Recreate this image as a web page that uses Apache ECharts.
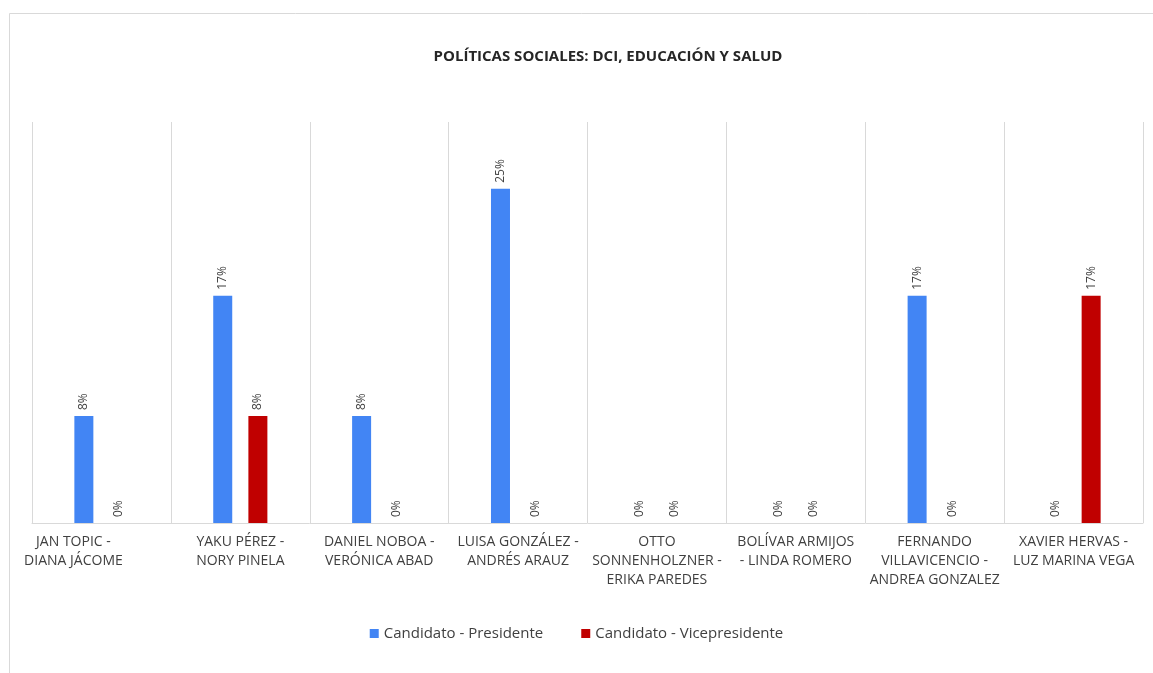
<!DOCTYPE html>
<html>
<head>
<meta charset="utf-8">
<script src="https://cdn.jsdelivr.net/npm/echarts@6/dist/echarts.min.js"></script>
<style>html,body{margin:0;padding:0;background:#fff;}#c{width:1153px;height:673px;}</style>
</head>
<body>
<div id="c"></div>
<script>
const categories = [
  'JAN TOPIC -\nDIANA JÁCOME',
  'YAKU PÉREZ -\nNORY PINELA',
  'DANIEL NOBOA -\nVERÓNICA ABAD',
  'LUISA GONZÁLEZ -\nANDRÉS ARAUZ',
  'OTTO\nSONNENHOLZNER -\nERIKA PAREDES',
  'BOLÍVAR ARMIJOS\n- LINDA ROMERO',
  'FERNANDO\nVILLAVICENCIO -\nANDREA GONZALEZ',
  'XAVIER HERVAS -\nLUZ MARINA VEGA'
];
const presidente = [8, 17, 8, 25, 0, 0, 17, 0];
const vicepresidente = [0, 8, 0, 0, 0, 0, 0, 17];
const seriesNames = ['Candidato - Presidente', 'Candidato - Vicepresidente'];
const titleText = 'POLÍTICAS SOCIALES: DCI, EDUCACIÓN Y SALUD';

const font = '"Open Sans", "Liberation Sans", sans-serif';
const chart = echarts.init(document.getElementById('c'));
const labelCfg = {
  show: true, position: 'top', rotate: 90, align: 'left', verticalAlign: 'middle',
  distance: 6, formatter: p => p.value + '%', fontFamily: font, fontSize: 12, color: '#404040'
};
chart.setOption({
  animation: false,
  backgroundColor: '#fff',
  graphic: [{
    type: 'rect', left: 7, top: 11, shape: {width: 1160, height: 680},
    style: {fill: 'none', stroke: '#d9d9d9', lineWidth: 1}
  }],
  title: {
    text: titleText, left: 603, top: 44, textAlign: 'center',
    textStyle: {fontFamily: font, fontSize: 15, fontWeight: 'bold', color: '#262626'}
  },
  legend: {
    data: seriesNames, bottom: 27, left: 'center', icon: 'rect', itemWidth: 9, itemHeight: 9,
    itemGap: 38, textStyle: {fontFamily: font, fontSize: 15, color: '#404040'}
  },
  grid: {left: 32, right: 10, top: 122, bottom: 150, containLabel: false},
  xAxis: {
    type: 'category', data: categories,
    axisLine: {lineStyle: {color: '#d9d9d9'}},
    axisTick: {show: false},
    splitLine: {show: true, interval: 0, lineStyle: {color: '#d9d9d9'}},
    axisLabel: {
      interval: 0, fontFamily: font, fontSize: 14, color: '#404040', lineHeight: 19, margin: 10,
      formatter: (v, i) => i === 0 ? '{first|' + v + '}' : v,
      rich: {first: {fontFamily: font, fontSize: 14, color: '#404040', lineHeight: 19, padding: [0, 56, 0, 0]}}
    }
  },
  yAxis: {
    type: 'value', min: 0, max: 30, show: false, splitLine: {show: false}
  },
  series: [
    {name: seriesNames[0], type: 'bar', data: presidente, barWidth: 19, barGap: '85%',
     itemStyle: {color: '#4285F4'}, label: labelCfg},
    {name: seriesNames[1], type: 'bar', data: vicepresidente, barWidth: 19,
     itemStyle: {color: '#C00000'}, label: labelCfg}
  ]
});
</script>
</body>
</html>
